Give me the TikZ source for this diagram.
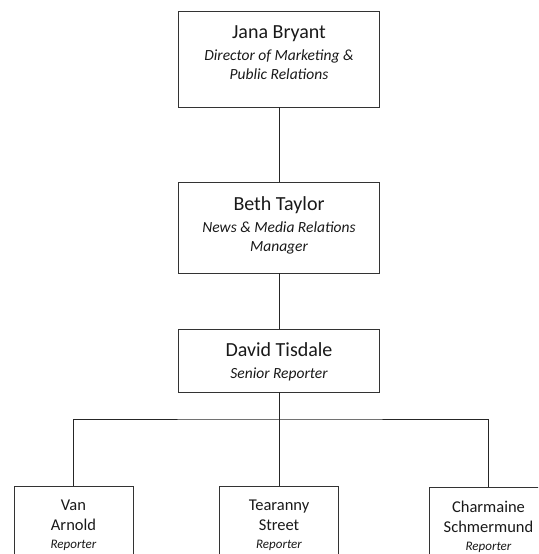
\documentclass[tikz,border=0pt]{standalone}
\usepackage{fontspec}
\setmainfont{Carlito}
\usetikzlibrary{positioning}

\newcommand{\pname}[1]{{\fontsize{20}{20}\selectfont #1}}
\newcommand{\ptitle}[1]{{\fontsize{15.5}{19}\selectfont\itshape #1}}
\newcommand{\rname}[1]{{\fontsize{16.5}{20}\selectfont #1}}
\newcommand{\rtitle}[1]{{\fontsize{13}{17}\selectfont\itshape #1}}

\begin{document}
\begin{tikzpicture}[x=1pt,y=-1pt,
	box/.style={draw=black!80,line width=0.9pt,rectangle,inner sep=0pt},
	txt/.style={align=center,inner sep=0pt,text=black!90,font=\fontsize{13}{19}\selectfont},
	link/.style={draw=black!85,line width=0.8pt}]
	\useasboundingbox (0,0) rectangle (538,554);
	\clip (0,0) rectangle (538,554);
	% managers
	\node[box,minimum width=201pt,minimum height=96pt] (jana) at (279,59) {};
	\node[txt,below=15pt of jana.north] (janat) {\pname{Jana Bryant}\\[3pt]\ptitle{Director of Marketing \&}\\\ptitle{Public Relations}};
	\node[box,minimum width=201pt,minimum height=91pt] (beth) at (279,227.5) {};
	\node[txt,below=15pt of beth.north] (betht) {\pname{Beth Taylor}\\[3pt]\ptitle{News \& Media Relations}\\\ptitle{Manager}};
	\node[box,minimum width=201pt,minimum height=63pt] (david) at (279,360.5) {};
	\node[txt,below=14pt of david.north] (davidt) {\pname{David Tisdale}\\[3pt]\ptitle{Senior Reporter}};
	% reporters
	\node[box,minimum width=119pt,minimum height=100pt] (van) at (73.5,536) {};
	\node[txt,below=14pt of van.north] (vant) {\rname{Van}\\[1pt]\rname{Arnold}\\[-1pt]\rtitle{Reporter}};
	\node[box,minimum width=119pt,minimum height=100pt] (tear) at (279,536) {};
	\node[txt,below=14pt of tear.north] (teart) {\rname{Tearanny}\\[1pt]\rname{Street}\\[-1pt]\rtitle{Reporter}};
	\node[box,minimum width=119pt,minimum height=100pt] (charm) at (488.5,537) {};
	\node[txt,below=14pt of charm.north] (charmt) {\rname{Charmaine}\\[1pt]\rname{Schmermund}\\[-1pt]\rtitle{Reporter}};
	% lines
	\coordinate (split) at (279,419);
	\draw[link] (jana.south) -- (beth.north);
	\draw[link] (beth.south) -- (david.north);
	\draw[link] (david.south) -- (tear.north);
	\draw[link] (van.north) |- (split) -| (charm.north);
\end{tikzpicture}
\end{document}
